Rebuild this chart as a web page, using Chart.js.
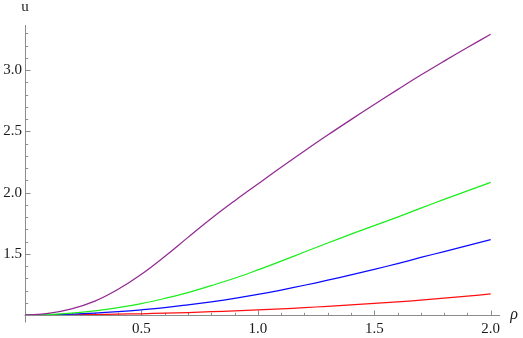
<!DOCTYPE html>
<html>
<head>
<meta charset="utf-8">
<script src="https://cdn.jsdelivr.net/npm/chart.js@4/dist/chart.umd.min.js"></script>
<style>
html,body{margin:0;padding:0;background:#fff;}
canvas{display:block;}
</style>
</head>
<body>
<canvas id="c" width="523" height="338"></canvas>
<script>
// ---- data ----
const rho = [0,0.1,0.2,0.3,0.4,0.5,0.6,0.7,0.8,0.9,1.0,1.1,1.2,1.3,1.4,1.5,1.6,1.7,1.8,1.9,2.0];
const uPurple = [1.000,1.013,1.050,1.113,1.210,1.333,1.478,1.634,1.788,1.932,2.070,2.207,2.340,2.470,2.596,2.720,2.841,2.960,3.074,3.185,3.293];
const uGreen  = [1.000,1.004,1.015,1.034,1.060,1.093,1.135,1.183,1.240,1.300,1.368,1.440,1.515,1.588,1.660,1.730,1.800,1.873,1.944,2.014,2.084];
const uBlue   = [1.000,1.002,1.007,1.015,1.027,1.042,1.060,1.083,1.108,1.136,1.168,1.204,1.243,1.284,1.328,1.373,1.420,1.470,1.518,1.567,1.615];
const uRed    = [1.000,1.000,1.002,1.004,1.007,1.010,1.015,1.020,1.027,1.034,1.041,1.050,1.060,1.071,1.083,1.095,1.108,1.121,1.137,1.154,1.172];

const xTicks = [0.1,0.2,0.3,0.4,0.5,0.6,0.7,0.8,0.9,1.0,1.1,1.2,1.3,1.4,1.5,1.6,1.7,1.8,1.9,2.0];
const xMajor = [0.5,1.0,1.5,2.0];
const xTickLabels = ['0.5','1.0','1.5','2.0'];
const yTicks = [1.1,1.2,1.3,1.4,1.5,1.6,1.7,1.8,1.9,2.0,2.1,2.2,2.3,2.4,2.5,2.6,2.7,2.8,2.9,3.0,3.1,3.2,3.3];
const yMajor = [1.5,2.0,2.5,3.0];
const yTickLabels = ['1.5','2.0','2.5','3.0'];
const xTitle = 'ρ';
const yTitle = 'u';

const isIn = (arr, v) => arr.findIndex(m => Math.abs(m - v) < 1e-9);
const AXIS_COLOR = '#8c8c8c';
const LABEL_COLOR = '#1a1a1a';
const FONT = "'Liberation Serif', 'Times New Roman', 'DejaVu Serif', serif";

const mmaAxes = {
  id: 'mmaAxes',
  beforeDatasetsDraw(chart) {
    const {ctx, scales: {x, y}} = chart;
    const x0 = Math.round(x.getPixelForValue(0)) + 0.5;
    const y0 = Math.round(y.getPixelForValue(1)) + 0.5;
    ctx.save();
    ctx.strokeStyle = AXIS_COLOR;
    ctx.lineWidth = 1;
    ctx.beginPath();
    ctx.moveTo(x0 - 1, y0); ctx.lineTo(x.right, y0);
    ctx.moveTo(x0, y.top); ctx.lineTo(x0, y0 + 7);
    ctx.stroke();
    ctx.beginPath();
    xTicks.forEach(v => {
      const px = Math.round(x.getPixelForValue(v)) + 0.5;
      const len = isIn(xMajor, v) >= 0 ? 5 : 2.7;
      ctx.moveTo(px, y0); ctx.lineTo(px, y0 - len);
    });
    yTicks.forEach(v => {
      const py = Math.round(y.getPixelForValue(v)) + 0.5;
      const len = isIn(yMajor, v) >= 0 ? 5 : 2.7;
      ctx.moveTo(x0, py); ctx.lineTo(x0 + len, py);
    });
    ctx.stroke();
    ctx.restore();
  },
  afterDraw(chart) {
    const {ctx, scales: {x, y}} = chart;
    ctx.save();
    ctx.fillStyle = LABEL_COLOR;
    ctx.textAlign = 'center';
    ctx.textBaseline = 'alphabetic';
    ctx.font = '15px ' + FONT;
    ctx.fillText(yTitle, x.getPixelForValue(0), 11);
    ctx.font = 'italic 16px ' + FONT;
    ctx.fillText(xTitle, x.right + 14, y.getPixelForValue(1) + 4);
    ctx.restore();
  }
};

const mk = (data, color) => ({
  data: rho.map((r, i) => ({x: r, y: data[i]})),
  borderColor: color,
  borderWidth: 1.25,
  pointRadius: 0,
  fill: false,
  tension: 0.4
});

new Chart(document.getElementById('c'), {
  type: 'line',
  data: {
    datasets: [
      mk(uPurple, '#922a92'),
      mk(uGreen, '#1aee1a'),
      mk(uBlue, '#0a0aff'),
      mk(uRed, '#ff1010')
    ]
  },
  options: {
    responsive: false,
    animation: false,
    events: [],
    layout: {padding: {left: 0, right: 23, top: 25, bottom: 0}},
    plugins: {legend: {display: false}, tooltip: {enabled: false}},
    scales: {
      x: {
        type: 'linear',
        min: 0, max: 2.040,
        afterBuildTicks: s => { s.ticks = xTicks.map(v => ({value: v})); },
        afterFit: s => { s.height = 23; },
        grid: {display: false, drawTicks: false},
        border: {display: false},
        ticks: {
          autoSkip: false, maxRotation: 0, padding: 5,
          color: LABEL_COLOR, font: {family: FONT, size: 15},
          callback: v => { const i = isIn(xMajor, v); return i >= 0 ? xTickLabels[i] : ''; }
        }
      },
      y: {
        type: 'linear',
        min: 1.0, max: 3.369,
        afterBuildTicks: s => { s.ticks = yTicks.map(v => ({value: v})); },
        afterFit: s => { s.width = 25; },
        grid: {display: false, drawTicks: false},
        border: {display: false},
        ticks: {
          autoSkip: false, padding: 3,
          color: LABEL_COLOR, font: {family: FONT, size: 15},
          callback: v => { const i = isIn(yMajor, v); return i >= 0 ? yTickLabels[i] : ''; }
        }
      }
    }
  },
  plugins: [mmaAxes]
});
</script>
</body>
</html>
